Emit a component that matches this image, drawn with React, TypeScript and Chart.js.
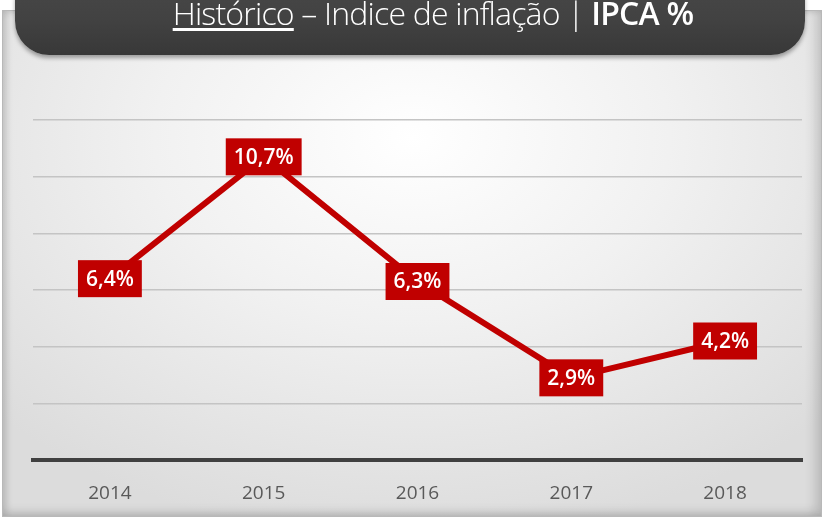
import React, { useEffect, useRef } from "react";
import { Chart, registerables } from "chart.js";

Chart.register(...registerables);

const years = ["2014", "2015", "2016", "2017", "2018"];
const ipca = [6.4, 10.7, 6.3, 2.9, 4.2];
const yMin = 0;
const yMax = 12;
const yStep = 2;

const fmt = (v: number) => v.toFixed(1).replace(".", ",") + "%";

const labelBoxPlugin = {
  id: "labelBoxes",
  afterDatasetsDraw(chart: any) {
    const ctx = chart.ctx;
    const meta = chart.getDatasetMeta(0);
    ctx.save();
    ctx.font = "600 21px 'Open Sans'";
    ctx.textAlign = "center";
    ctx.textBaseline = "middle";
    meta.data.forEach((pt: any, i: number) => {
      const txt = fmt(ipca[i]);
      const w = ctx.measureText(txt).width + 16;
      const h = 37;
      ctx.fillStyle = "#c00000";
      ctx.fillRect(pt.x - w / 2, pt.y - h / 2, w, h);
      ctx.fillStyle = "#ffffff";
      ctx.fillText(txt, pt.x, pt.y + 1);
    });
    ctx.restore();
  },
};

export default function App() {
  const ref = useRef<HTMLCanvasElement>(null);
  useEffect(() => {
    document.body.style.margin = "0";
    const chart = new Chart(ref.current!, {
      type: "line",
      data: {
        labels: years,
        datasets: [
          {
            data: ipca,
            borderColor: "#c00000",
            borderWidth: 6,
            pointRadius: 0,
            tension: 0,
          },
        ],
      },
      options: {
        animation: false,
        responsive: false,
        maintainAspectRatio: false,
        layout: { padding: { left: 33, right: 23, top: 120, bottom: 0 } },
        plugins: { legend: { display: false }, tooltip: { enabled: false } },
        scales: {
          x: {
            offset: true,
            grid: { display: false },
            border: { display: true, color: "#404040", width: 4 },
            ticks: {
              color: "#595959",
              font: { family: "'Open Sans'", size: 19 },
              padding: 14,
            },
            afterFit: (s: any) => {
              s.height = 58;
            },
          },
          y: {
            min: yMin,
            max: yMax,
            ticks: { display: false, stepSize: yStep },
            grid: { color: "#c4c4c4", lineWidth: 1.5, drawTicks: false },
            border: { display: false },
            afterFit: (s: any) => {
              s.width = 0;
            },
          },
        },
      },
      plugins: [labelBoxPlugin],
    });
    return () => chart.destroy();
  }, []);

  return (
    <div style={{ position: "relative", width: 825, height: 518, overflow: "hidden", background: "#ffffff" }}>
      <div
        style={{
          position: "absolute",
          left: 2,
          top: 10,
          width: 818,
          height: 505,
          border: "1px solid #b8b8b8",
          background:
            "radial-gradient(ellipse 70% 80% at 50% 25%, #ffffff 0%, #f1f1f1 45%, #dcdcdc 100%)",
          boxShadow: "inset 4px 0 6px rgba(0,0,0,0.12), inset -8px 0 10px rgba(0,0,0,0.10), inset 0 -6px 8px rgba(0,0,0,0.08)",
        }}
      />
      <canvas ref={ref} width={825} height={518} style={{ position: "absolute", left: 0, top: 0 }} />
      <div
        style={{
          position: "absolute",
          left: 15,
          top: -35,
          width: 790,
          height: 90,
          borderRadius: 34,
          background: "linear-gradient(180deg, #4a4a4a 0%, #424242 60%, #383838 100%)",
          boxShadow: "0 3px 4px rgba(0,0,0,0.35)",
        }}
      />
      <div
        style={{
          position: "absolute",
          left: 28,
          top: -9,
          width: 810,
          textAlign: "center",
          color: "#ffffff",
          fontFamily: "'Open Sans'",
          fontWeight: 300,
          fontSize: 32,
          whiteSpace: "nowrap",
          letterSpacing: -0.8,
        }}
      >
        <span style={{ textDecoration: "underline", textUnderlineOffset: 3 }}>Histórico</span>
        <span> – Índice de inflação | </span>
        <span style={{ fontWeight: 600 }}>IPCA %</span>
      </div>
    </div>
  );
}
